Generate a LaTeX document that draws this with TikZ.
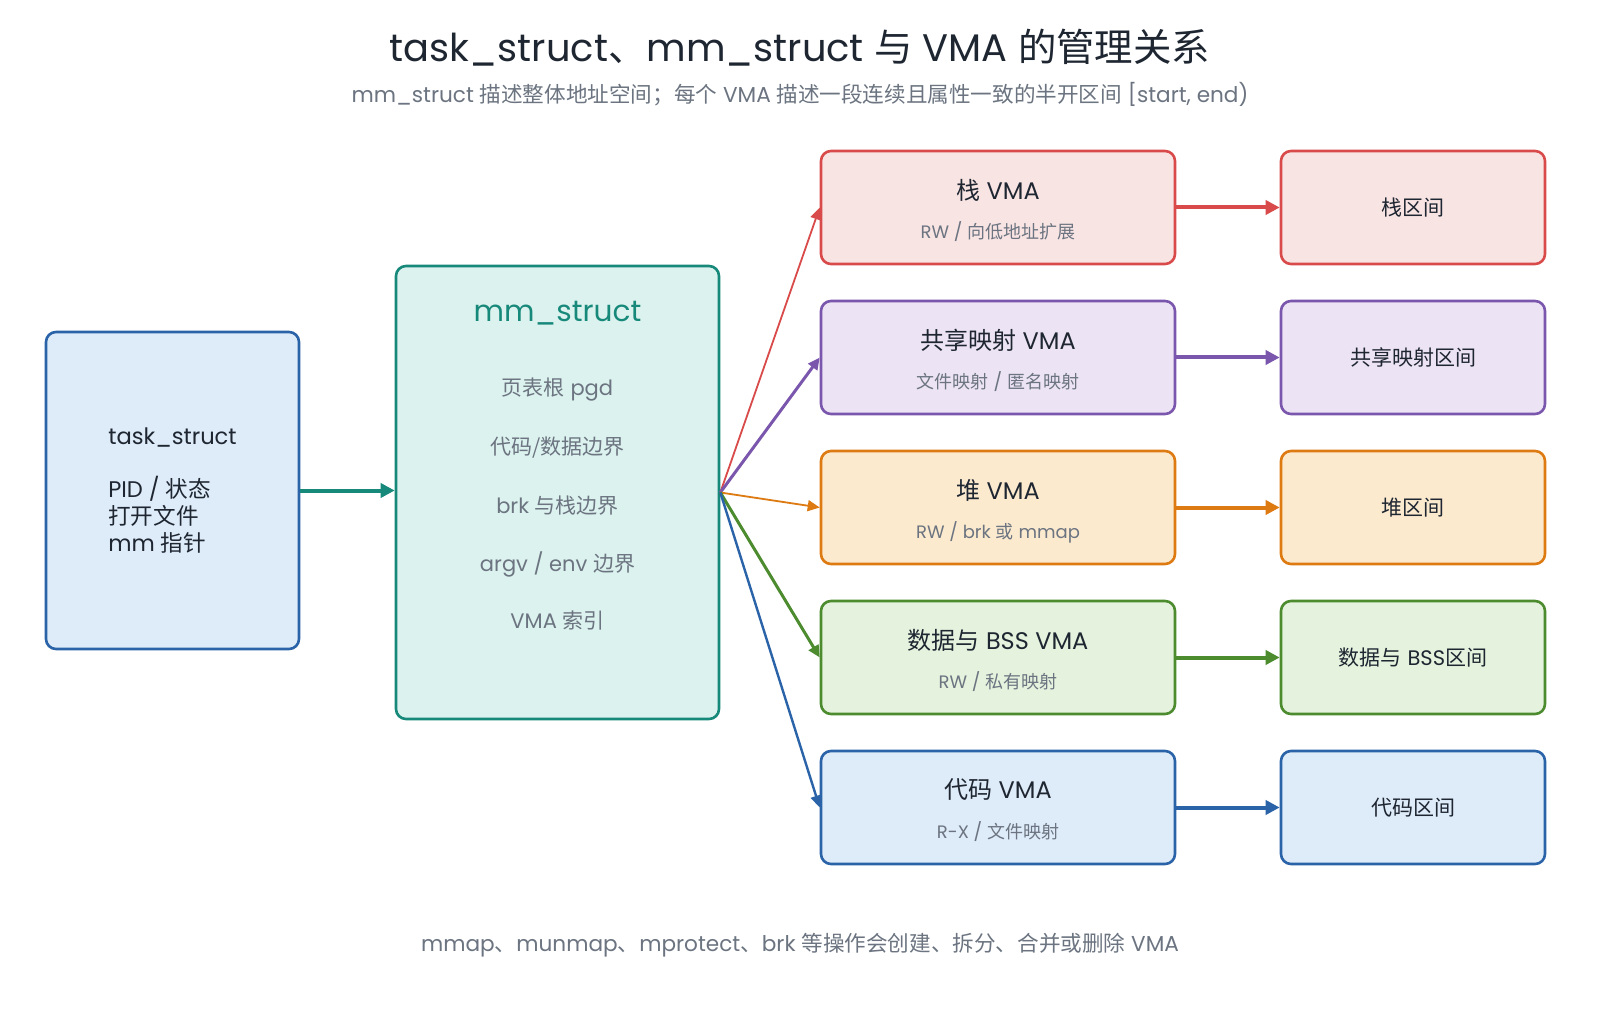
\documentclass[tikz,border=0pt]{standalone}
\usepackage{fontspec}
\setmainfont{Poppins}
\newfontfamily\cjk{Noto Sans CJK SC}
\newcommand\zh[1]{{\cjk #1}}
\usetikzlibrary{arrows.meta}
\definecolor{ink}{HTML}{1E2631}
\definecolor{mute}{HTML}{6B7480}
\definecolor{tealc}{HTML}{17897A}
\definecolor{tealf}{HTML}{DCF2EE}
\definecolor{bluec}{HTML}{2B63A8}
\definecolor{bluef}{HTML}{DEEBF8}
\definecolor{redc}{HTML}{D94B4B}
\definecolor{redf}{HTML}{F9E4E4}
\definecolor{purc}{HTML}{7A56AD}
\definecolor{purf}{HTML}{ECE3F5}
\definecolor{orac}{HTML}{DD7A12}
\definecolor{oraf}{HTML}{FCEACF}
\definecolor{grec}{HTML}{4C8C2F}
\definecolor{gref}{HTML}{E5F2DE}
\begin{document}
\begin{tikzpicture}[x=0.5pt,y=-0.5pt,
  box/.style={draw, rounded corners=5pt, line width=1.3pt, inner sep=0pt, anchor=center},
  vmabox/.style={box, minimum width=177pt, minimum height=56.5pt},
  regbox/.style={box, minimum width=132pt, minimum height=56.5pt, font=\fontsize{10.5}{12}\selectfont, text=ink},
  vtitle/.style={font=\fontsize{12}{14}\selectfont, text=ink, inner sep=0pt},
  vsub/.style={font=\fontsize{9}{11}\selectfont, text=mute, inner sep=0pt},
  mmitem/.style={font=\fontsize{10.5}{12}\selectfont, text=mute, inner sep=0pt},
  thick arrow/.style={line width=2pt, -{Triangle[length=7pt,width=7pt]}},
  fan/.style={-{Triangle[length=6pt,width=5.5pt]}},
]
\useasboundingbox[fill=white] (0,0) rectangle (1600,1010);

\node[font=\fontsize{19.2}{23}\selectfont, text=ink, inner sep=0pt] (title) at (800,48)
  {task\_struct\zh{、}mm\_struct \zh{与} VMA \zh{的管理关系}};
\node[font=\fontsize{10.8}{13}\selectfont, text=mute, inner sep=0pt] (subtitle) at (800,94)
  {mm\_struct \zh{描述整体地址空间；每个} VMA \zh{描述一段连续且属性一致的半开区间} [start, end)};

\node[box, draw=bluec, fill=bluef, minimum width=126.5pt, minimum height=158.5pt,
  font=\fontsize{11.3}{13.4}\selectfont, text=ink, align=left] (task) at (172.5,490.5)
  {task\_struct\\[13pt]PID / \zh{状态}\\\zh{打开文件}\\mm \zh{指针}};

\node[box, draw=tealc, fill=tealf, minimum width=161.5pt, minimum height=226.5pt] (mm) at (557.5,492.5) {};
\node[font=\fontsize{14.8}{17}\selectfont, text=tealc, inner sep=0pt] (mmtitle) at (557.5,313) {mm\_struct};
\node[mmitem] (mm1) at (557.5,390) {\zh{页表根} pgd};
\node[mmitem] (mm2) at (557.5,448) {\zh{代码/数据边界}};
\node[mmitem] (mm3) at (557.5,506) {brk \zh{与栈边界}};
\node[mmitem] (mm4) at (557.5,564) {argv / env \zh{边界}};
\node[mmitem] (mm5) at (557.5,621) {VMA \zh{索引}};

\node[vmabox, draw=redc, fill=redf] (v1) at (998,207.5) {};
\node[vmabox, draw=purc, fill=purf] (v2) at (998,357.5) {};
\node[vmabox, draw=orac, fill=oraf] (v3) at (998,507.5) {};
\node[vmabox, draw=grec, fill=gref] (v4) at (998,657.5) {};
\node[vmabox, draw=bluec, fill=bluef] (v5) at (998,807.5) {};

\node[vtitle] (t1) at (998,190) {\zh{栈} VMA};
\node[vsub] (s1) at (998,232) {RW / \zh{向低地址扩展}};
\node[vtitle] (t2) at (998,340) {\zh{共享映射} VMA};
\node[vsub] (s2) at (998,382) {\zh{文件映射} / \zh{匿名映射}};
\node[vtitle] (t3) at (998,490) {\zh{堆} VMA};
\node[vsub] (s3) at (998,532) {RW / brk \zh{或} mmap};
\node[vtitle] (t4) at (998,640) {\zh{数据与} BSS VMA};
\node[vsub] (s4) at (998,682) {RW / \zh{私有映射}};
\node[vtitle] (t5) at (998,790) {\zh{代码} VMA};
\node[vsub] (s5) at (998,832) {R-X / \zh{文件映射}};

\node[regbox, draw=redc, fill=redf] (r1) at (1413,207.5) {\zh{栈区间}};
\node[regbox, draw=purc, fill=purf] (r2) at (1413,357.5) {\zh{共享映射区间}};
\node[regbox, draw=orac, fill=oraf] (r3) at (1413,507.5) {\zh{堆区间}};
\node[regbox, draw=grec, fill=gref] (r4) at (1413,657.5) {\zh{数据与} BSS\zh{区间}};
\node[regbox, draw=bluec, fill=bluef] (r5) at (1413,807.5) {\zh{代码区间}};

\draw[thick arrow, draw=tealc, fill=tealc] (task.east) -- (task.east -| mm.west);

\draw[fan, draw=redc, fill=redc, line width=0.9pt] (mm.east) -- (v1.west);
\draw[fan, draw=purc, fill=purc, line width=1.5pt] (mm.east) -- (v2.west);
\draw[fan, draw=orac, fill=orac, line width=0.9pt] (mm.east) -- (v3.west);
\draw[fan, draw=grec, fill=grec, line width=1.5pt] (mm.east) -- (v4.west);
\draw[fan, draw=bluec, fill=bluec, line width=1.2pt] (mm.east) -- (v5.west);

\draw[thick arrow, draw=redc, fill=redc] (v1.east) -- (r1.west);
\draw[thick arrow, draw=purc, fill=purc] (v2.east) -- (r2.west);
\draw[thick arrow, draw=orac, fill=orac] (v3.east) -- (r3.west);
\draw[thick arrow, draw=grec, fill=grec] (v4.east) -- (r4.west);
\draw[thick arrow, draw=bluec, fill=bluec] (v5.east) -- (r5.west);

\node[font=\fontsize{10.8}{13}\selectfont, text=mute, inner sep=0pt] (footer) at (800,945)
  {mmap\zh{、}munmap\zh{、}mprotect\zh{、}brk \zh{等操作会创建、拆分、合并或删除} VMA};
\end{tikzpicture}
\end{document}
